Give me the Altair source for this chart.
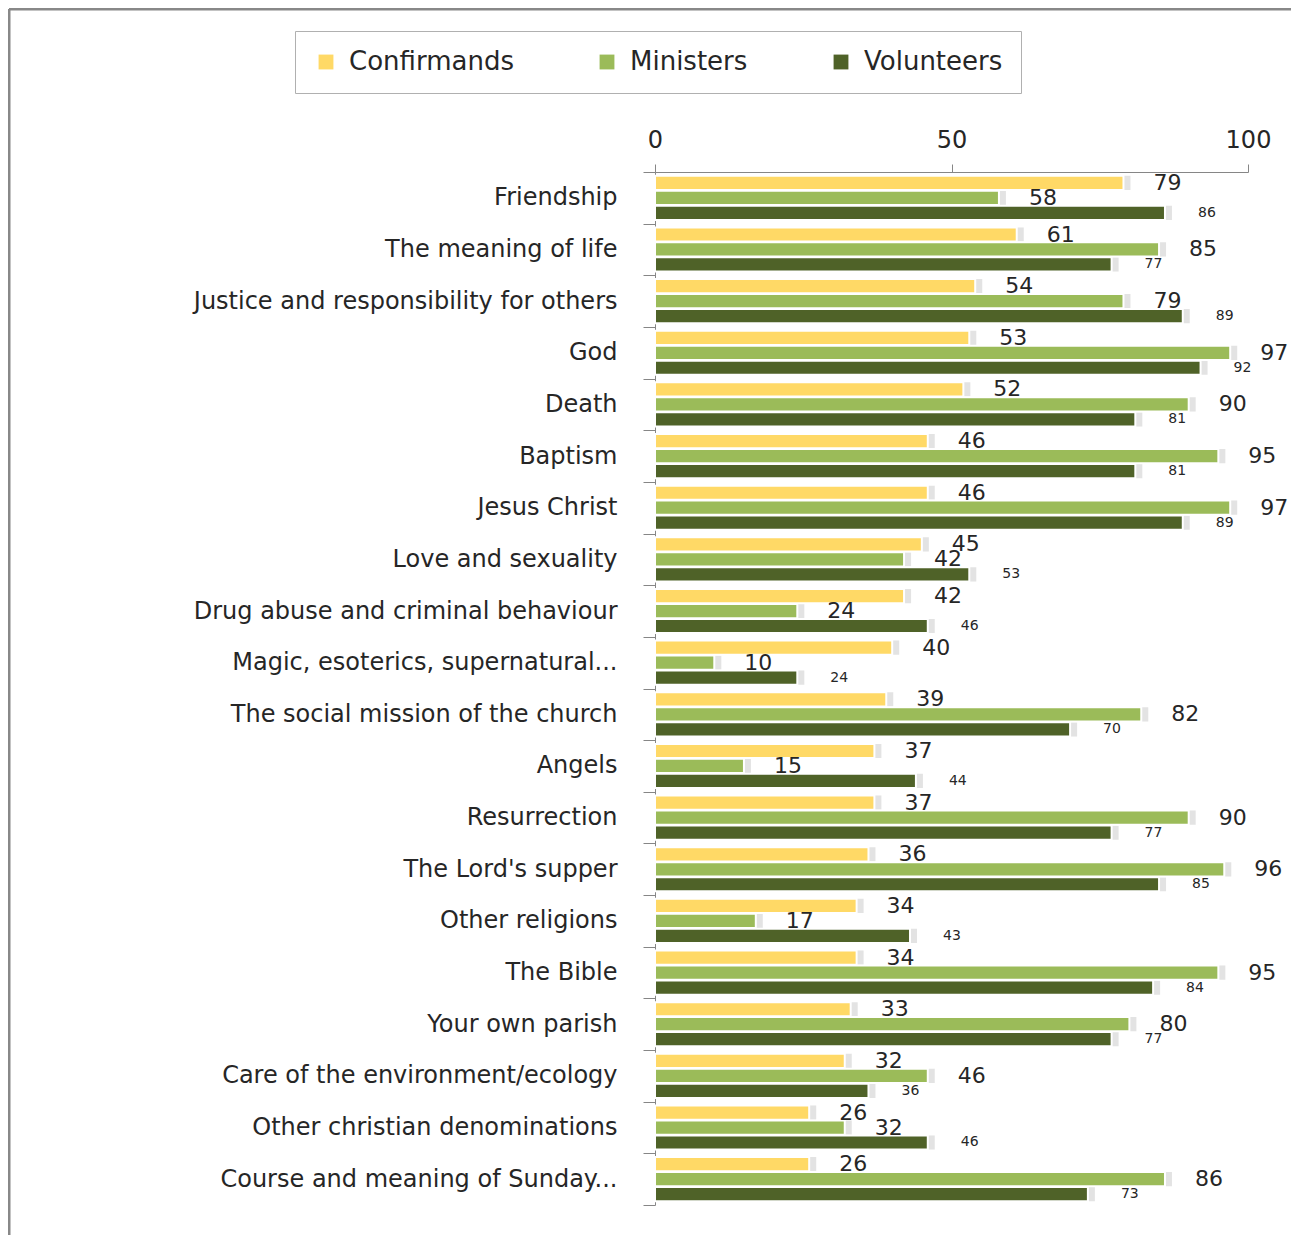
import altair as alt
import pandas as pd

categories = [
    "Friendship",
    "The meaning of life",
    "Justice and responsibility for others",
    "God",
    "Death",
    "Baptism",
    "Jesus Christ",
    "Love and sexuality",
    "Drug abuse and criminal behaviour",
    "Magic, esoterics, supernatural...",
    "The social mission of the church",
    "Angels",
    "Resurrection",
    "The Lord's supper",
    "Other religions",
    "The Bible",
    "Your own parish",
    "Care of the environment/ecology",
    "Other christian denominations",
    "Course and meaning of Sunday...",
]
confirmands = [79, 61, 54, 53, 52, 46, 46, 45, 42, 40, 39, 37, 37, 36, 34, 34, 33, 32, 26, 26]
ministers = [58, 85, 79, 97, 90, 95, 97, 42, 24, 10, 82, 15, 90, 96, 17, 95, 80, 46, 32, 86]
volunteers = [86, 77, 89, 92, 81, 81, 89, 53, 46, 24, 70, 44, 77, 85, 43, 84, 77, 36, 46, 73]
series = ["Confirmands", "Ministers", "Volunteers"]
colors = ["#FFD966", "#9BBB59", "#4F6228"]
x_ticks = [0, 50, 100]

rows = []
for i, c in enumerate(categories):
    for s, vals in zip(series, [confirmands, ministers, volunteers]):
        rows.append({"category": c, "series": s, "value": vals[i]})
df = pd.DataFrame(rows)

FONT = "DejaVu Sans"
TXT = "#262626"
AX = "#868686"

y_enc = alt.Y(
    "category:N",
    sort=categories,
    scale=alt.Scale(paddingInner=0, paddingOuter=0),
    axis=alt.Axis(
        title=None, labelFontSize=24, labelColor=TXT, labelFont=FONT,
        labelPadding=26, tickSize=12, tickColor=AX, domainColor=AX,
        tickBand="extent", labelLimit=700, grid=False,
    ),
)
yoff_enc = alt.YOffset(
    "series:N", sort=series,
    scale=alt.Scale(paddingInner=0.05, paddingOuter=0.25),
)
x_enc = alt.X(
    "value:Q",
    scale=alt.Scale(domain=[0, 100], nice=False),
    axis=alt.Axis(
        orient="top", values=x_ticks, title=None, labelFontSize=24,
        labelColor=TXT, labelFont=FONT, tickSize=8, tickColor=AX,
        domainColor=AX, grid=False, labelPadding=12, labelFlush=False,
    ),
)

base = alt.Chart(df).encode(y=y_enc, yOffset=yoff_enc)

shadow = base.mark_bar(color="#d0d0d0", opacity=0.6, xOffset=7).encode(
    x=x_enc, x2=alt.datum(0)
)

bars = base.mark_bar(stroke="white", strokeWidth=2).encode(
    x=x_enc,
    x2=alt.datum(0),
    color=alt.Color(
        "series:N",
        sort=series,
        scale=alt.Scale(domain=series, range=colors),
        legend=alt.Legend(
            title=None, orient="none", direction="horizontal",
            legendX=-360, legendY=-141, strokeColor="#b0b0b0", fillColor="white",
            padding=18, symbolType="square", symbolSize=220, symbolStrokeWidth=0,
            labelFontSize=26, labelFont=FONT, labelColor=TXT, labelLimit=400,
            columnPadding=80, labelOffset=10,
        ),
    ),
)

labels_big = base.mark_text(
    align="left", baseline="middle", dx=30, fontSize=22, font=FONT, color=TXT
).encode(x=x_enc, text="value:Q").transform_filter(
    alt.datum.series != "Volunteers"
)

labels_small = base.mark_text(
    align="left", baseline="middle", dx=33, fontSize=14, font=FONT, color=TXT
).encode(x=x_enc, text="value:Q").transform_filter(
    alt.datum.series == "Volunteers"
)

frame_df = pd.DataFrame({"k": [0]})
frame_top = alt.Chart(frame_df).mark_rule(color="#888888", strokeWidth=3).encode(
    x=alt.value(-646), x2=alt.value(640), y=alt.value(-163)
)
frame_left = alt.Chart(frame_df).mark_rule(color="#888888", strokeWidth=3).encode(
    x=alt.value(-646), y=alt.value(-163), y2=alt.value(1063)
)

chart = alt.layer(frame_top, frame_left, shadow, bars, labels_big, labels_small).properties(
    width=593,
    height=1033,
    autosize=alt.AutoSizeParams(type="none"),
    padding={"left": 647, "top": 164, "right": 43, "bottom": 30},
).configure_view(stroke=None)

chart.save("out.html", embed_options={"renderer": "svg", "actions": False})
